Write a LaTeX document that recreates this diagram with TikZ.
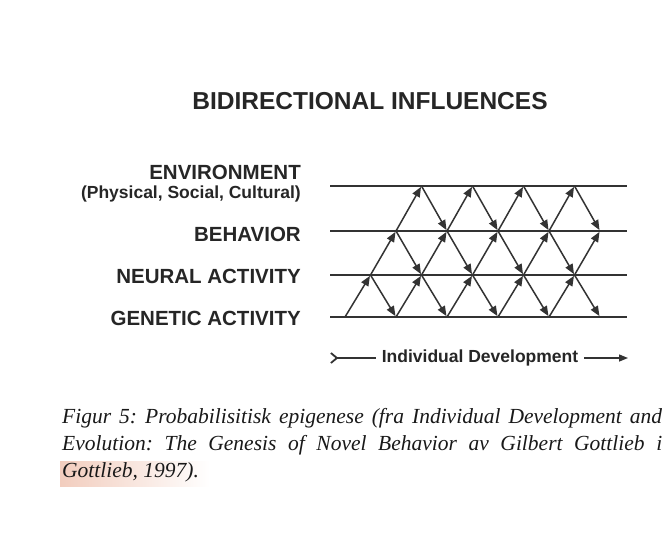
\documentclass[tikz,border=0pt]{standalone}
\usepackage{fontspec}
\setmainfont{Liberation Serif}
\setsansfont{Liberation Sans}
\usetikzlibrary{arrows.meta}

\definecolor{marker}{HTML}{F2CDBE}

\begin{document}
\begin{tikzpicture}[x=1pt,y=-1pt,
    level/.style={draw=black!80,line width=1.6pt},
    flow/.style={draw=black!80,line width=1.5pt,-{Triangle[length=10pt,width=8pt]},shorten >=1pt},
    lbl/.style={anchor=base east,inner sep=0pt,text=black!85,
      font=\sffamily\bfseries\fontsize{20.5}{24}\selectfont}]
\useasboundingbox[fill=white] (0,0) rectangle (662,533);

% heading
\node[anchor=base,inner sep=0pt,text=black!85,
  font=\sffamily\bfseries\fontsize{24.5}{28}\selectfont] (title) at (370,109) {BIDIRECTIONAL INFLUENCES};

% names of the four levels
\node[lbl] (env) at (301,179) {ENVIRONMENT};
\node[lbl,font=\sffamily\bfseries\fontsize{17.5}{20}\selectfont] (envsub) at (301,198) {(Physical, Social, Cultural)};
\node[lbl] (beh) at (301,241.5) {BEHAVIOR};
\node[lbl] (neu) at (301,283) {NEURAL ACTIVITY};
\node[lbl] (gen) at (301,325) {GENETIC ACTIVITY};

% the four horizontal levels
\foreach \y in {186,231,275,317}
  \draw[level] (330,\y) -- (627,\y);

% crossing points, x runs in half steps \u
\foreach \u in {0,2,...,10} \coordinate (g\u) at (345+25.5*\u,317);
\foreach \u in {1,3,...,9}  \coordinate (n\u) at (345+25.5*\u,275);
\foreach \u in {2,4,...,10} \coordinate (b\u) at (345+25.5*\u,231);
\foreach \u in {3,5,7,9}    \coordinate (e\u) at (345+25.5*\u,186);

% influences up and down between neighbouring levels
\foreach \u in {0,2,4,6,8} {
  \pgfmathtruncatemacro\v{\u+1}
  \draw[flow] (g\u) -- (n\v);
}
\foreach \u in {1,3,5,7,9} {
  \pgfmathtruncatemacro\v{\u+1}
  \draw[flow] (n\u) -- (b\v);
  \draw[flow] (n\u) -- (g\v);
}
\foreach \u in {2,4,6,8} {
  \pgfmathtruncatemacro\v{\u+1}
  \draw[flow] (b\u) -- (e\v);
  \draw[flow] (b\u) -- (n\v);
}
\foreach \u in {3,5,7,9} {
  \pgfmathtruncatemacro\v{\u+1}
  \draw[flow] (e\u) -- (b\v);
}

% time axis
\node[inner xsep=6pt,inner ysep=0pt,text=black!85,
  font=\sffamily\bfseries\fontsize{17.5}{20}\selectfont] (dev) at (480,358) {Individual Development};
\coordinate (devL) at (330,358);
\coordinate (devR) at (628,358);
\draw[draw=black!80,line width=1.4pt,{Straight Barb[reversed,length=6pt,width=10pt,line width=1.8pt]}-] (devL) -- (dev);
\draw[draw=black!80,line width=1.4pt,-{Triangle[length=9pt,width=7pt]}] (dev) -- (devR);

% caption with the pink marker stroke under its last line
\shade[left color=marker,right color=white] (60,461) rectangle (210,486);
\node[anchor=north west,inner sep=0pt,text width=600pt,align=justify,text=black!90,
  font=\itshape\fontsize{21.5}{27}\selectfont\frenchspacing] (caption) at (62,408)
  {Figur 5: Probabilisitisk epigenese (fra Individual Development and\linebreak
   Evolution: The Genesis of Novel Behavior av Gilbert Gottlieb i\linebreak
   Gottlieb, 1997).};
\end{tikzpicture}
\end{document}
